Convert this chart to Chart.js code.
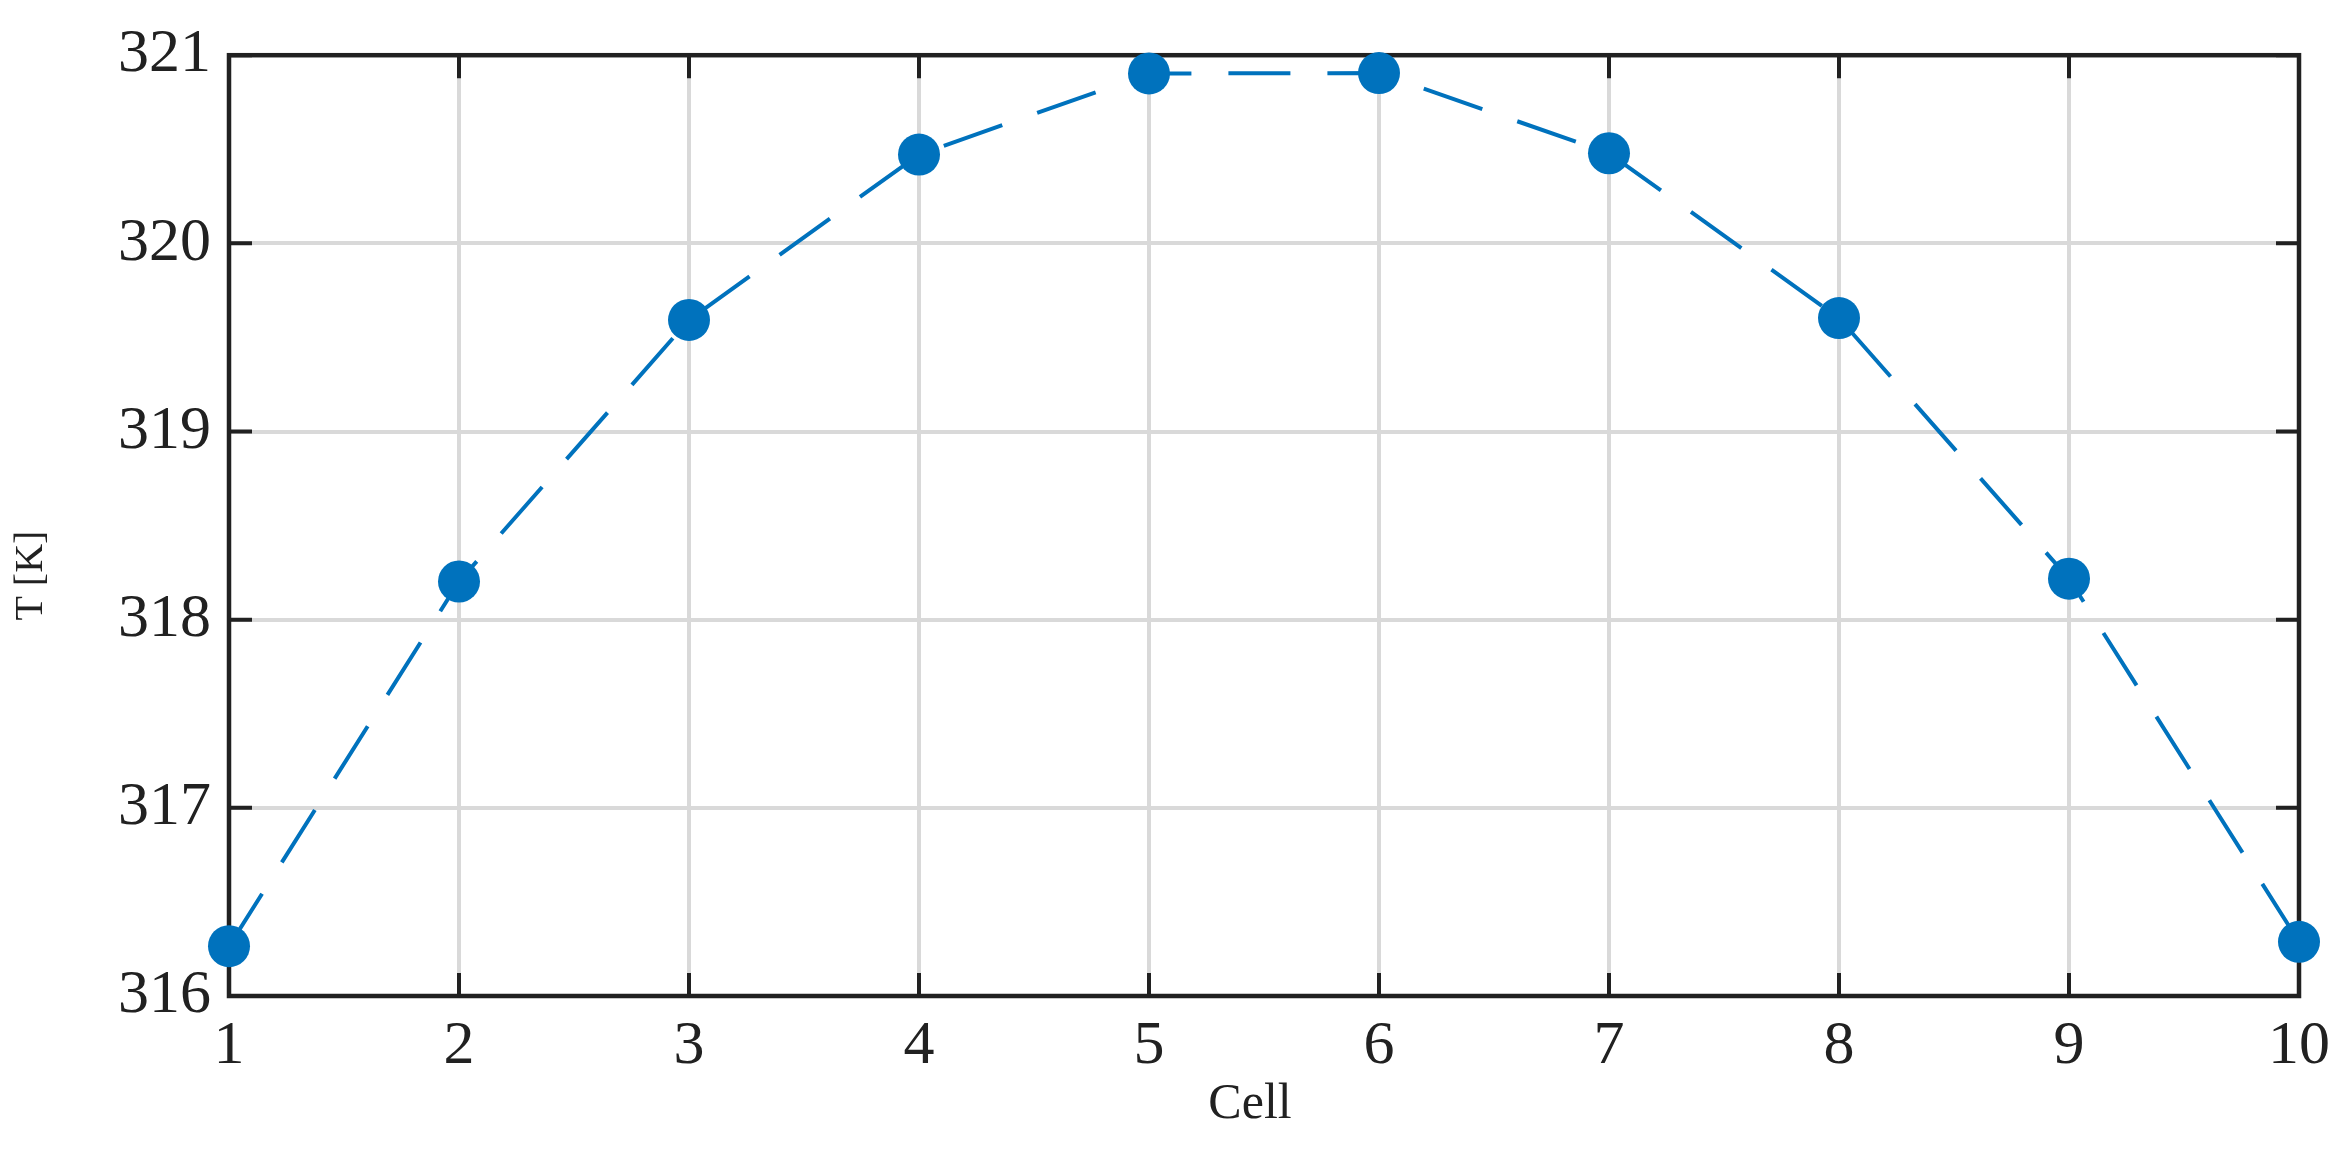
<!DOCTYPE html>
<html>
<head>
<meta charset="utf-8">
<script src="https://cdn.jsdelivr.net/npm/chart.js@4"></script>
<style>
  html, body { margin: 0; padding: 0; background: #ffffff; }
  #wrap { width: 2350px; height: 1152px; }
</style>
</head>
<body>
<div id="wrap"><canvas id="chart" width="2350" height="1152"></canvas></div>
<script>
// data
var cells = [1, 2, 3, 4, 5, 6, 7, 8, 9, 10];
var temps = [316.265, 318.203, 319.593, 320.472, 320.903, 320.905, 320.479, 319.603, 318.218, 316.288];
var xTicks = [1, 2, 3, 4, 5, 6, 7, 8, 9, 10];
var yTicks = [316, 317, 318, 319, 320, 321];
var xLabel = 'Cell';
var yLabel = 'T [K]';

var ink = '#212121';
var blue = '#0072BD';
var serif = '"Liberation Serif", "DejaVu Serif", serif';

var points = cells.map(function (c, i) { return { x: c, y: temps[i] }; });

// box, inward ticks and axis titles, MATLAB style
var boxPlugin = {
  id: 'box',
  beforeDatasetsDraw: function (chart) {
    var ctx = chart.ctx, a = chart.chartArea;
    var xs = chart.scales.x, ys = chart.scales.y;
    var tl = 23;
    ctx.save();
    ctx.strokeStyle = ink;
    ctx.lineWidth = 4;
    xTicks.forEach(function (t) {
      var px = xs.getPixelForValue(t);
      ctx.beginPath();
      ctx.moveTo(px, a.bottom); ctx.lineTo(px, a.bottom - tl);
      ctx.moveTo(px, a.top); ctx.lineTo(px, a.top + tl);
      ctx.stroke();
    });
    yTicks.forEach(function (t) {
      var py = ys.getPixelForValue(t);
      ctx.beginPath();
      ctx.moveTo(a.left, py); ctx.lineTo(a.left + tl, py);
      ctx.moveTo(a.right, py); ctx.lineTo(a.right - tl, py);
      ctx.stroke();
    });
    ctx.lineWidth = 4.5;
    ctx.strokeRect(a.left, a.top, a.right - a.left, a.bottom - a.top);
    ctx.restore();
  },
  afterDraw: function (chart) {
    var ctx = chart.ctx, a = chart.chartArea;
    ctx.save();
    ctx.fillStyle = ink;
    ctx.textAlign = 'center';
    ctx.textBaseline = 'alphabetic';
    ctx.font = '50px ' + serif;
    ctx.fillText(xLabel, (a.left + a.right) / 2 - 14, 1118);
    ctx.translate(42, (a.top + a.bottom) / 2 + 50);
    ctx.rotate(-Math.PI / 2);
    ctx.font = '40px ' + serif;
    ctx.fillText(yLabel, 0, 0);
    ctx.restore();
  }
};

new Chart(document.getElementById('chart'), {
  type: 'line',
  data: {
    datasets: [{
      label: 'T',
      data: points,
      borderColor: blue,
      borderWidth: 4,
      borderDash: [62, 37],
      backgroundColor: blue,
      pointBackgroundColor: blue,
      pointBorderWidth: 0,
      pointRadius: 21,
      tension: 0,
      fill: false,
      clip: false
    }]
  },
  options: {
    responsive: false,
    animation: false,
    events: [],
    layout: { padding: { top: 52, right: 51, left: 0, bottom: 0 } },
    plugins: { legend: { display: false }, tooltip: { enabled: false } },
    scales: {
      x: {
        type: 'linear',
        min: 1, max: 10,
        afterBuildTicks: function (s) { s.ticks = xTicks.map(function (v) { return { value: v }; }); },
        afterFit: function (s) { s.height = 156; },
        grid: { color: '#d9d9d9', lineWidth: 4, drawTicks: false },
        border: { display: false },
        ticks: { color: ink, font: { family: serif, size: 62 }, padding: 14, maxRotation: 0 }
      },
      y: {
        min: 316, max: 321,
        afterBuildTicks: function (s) { s.ticks = yTicks.map(function (v) { return { value: v }; }); },
        afterFit: function (s) { s.width = 229; },
        grid: { color: '#d9d9d9', lineWidth: 4, drawTicks: false },
        border: { display: false },
        ticks: { color: ink, font: { family: serif, size: 62 }, padding: 18 }
      }
    }
  },
  plugins: [boxPlugin]
});
</script>
</body>
</html>
